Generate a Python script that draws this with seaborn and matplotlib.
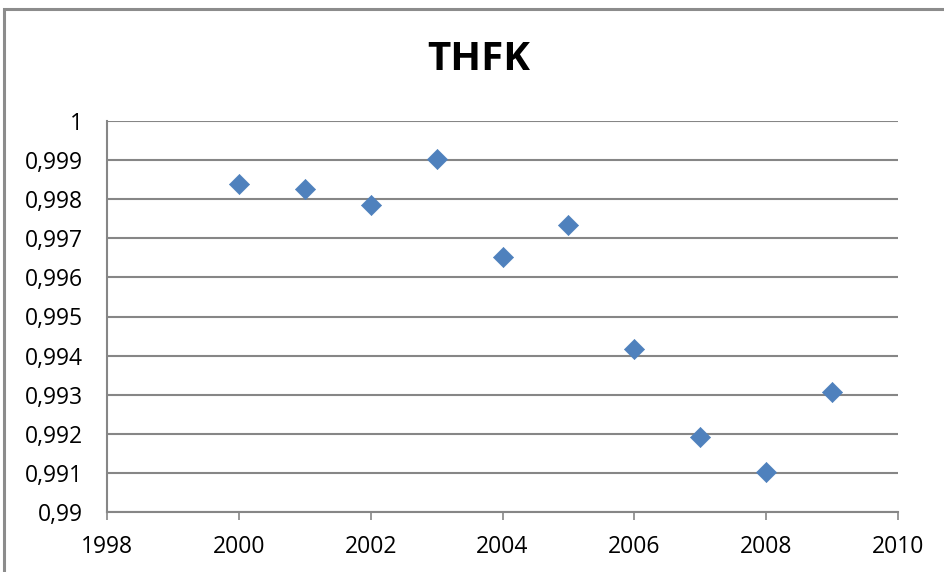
import matplotlib
matplotlib.use("Agg")
import matplotlib.pyplot as plt
from matplotlib.patches import Rectangle
import seaborn as sns
import pandas as pd

years = [2000, 2001, 2002, 2003, 2004, 2005, 2006, 2007, 2008, 2009]
thfk = [0.99838, 0.99825, 0.99784, 0.99902, 0.99653, 0.99733,
        0.99416, 0.99193, 0.99102, 0.99306]

x_ticks = [1998, 2000, 2002, 2004, 2006, 2008, 2010]
y_ticks = [0.99, 0.991, 0.992, 0.993, 0.994, 0.995, 0.996, 0.997, 0.998, 0.999, 1.0]
y_tick_labels = ["0,99", "0,991", "0,992", "0,993", "0,994", "0,995",
                 "0,996", "0,997", "0,998", "0,999", "1"]

sns.set_style("white")
plt.rcParams["font.family"] = ["Open Sans", "DejaVu Sans"]

df = pd.DataFrame({"Year": years, "THFK": thfk})

W, H = 945, 572
fig = plt.figure(figsize=(W / 100, H / 100), dpi=100)
ax = fig.add_axes([107 / W, (H - 512) / H, (898 - 107) / W, (512 - 121) / H])

grid_col = "#868686"
sns.scatterplot(data=df, x="Year", y="THFK", ax=ax, marker="D", s=105,
                color="#4F81BD", edgecolor="#4F81BD", linewidth=0.5, zorder=3)

ax.set_xlim(1998, 2010)
ax.set_ylim(0.99, 1.0)
ax.set_xticks(x_ticks)
ax.set_xticklabels([str(t) for t in x_ticks])
ax.set_yticks(y_ticks)
ax.set_yticklabels(y_tick_labels)
ax.set_xlabel("")
ax.set_ylabel("")

ax.yaxis.grid(True, color=grid_col, linewidth=1.5, zorder=1)
ax.xaxis.grid(False)
ax.set_axisbelow(True)

for side in ["top", "right"]:
    ax.spines[side].set_visible(False)
for side in ["left", "bottom"]:
    ax.spines[side].set_color(grid_col)
    ax.spines[side].set_linewidth(1.5)

ax.tick_params(axis="both", direction="out", length=5.5, width=1.2,
               color=grid_col, labelsize=16.5, labelcolor="black")
ax.tick_params(axis="y", pad=12)
ax.tick_params(axis="x", pad=11, bottom=True)

fig.text(479 / W, 1 - 60 / H, "THFK", ha="center", va="center",
         fontsize=29, fontweight="bold", color="black")

# outer chart frame
fig.patches.append(Rectangle((4 / W, -0.1), 1.2, 1 - 9 / H + 0.1,
                             transform=fig.transFigure, fill=False,
                             edgecolor="#8C8C8C", linewidth=2.2))

fig.savefig("out.png", dpi=100)
